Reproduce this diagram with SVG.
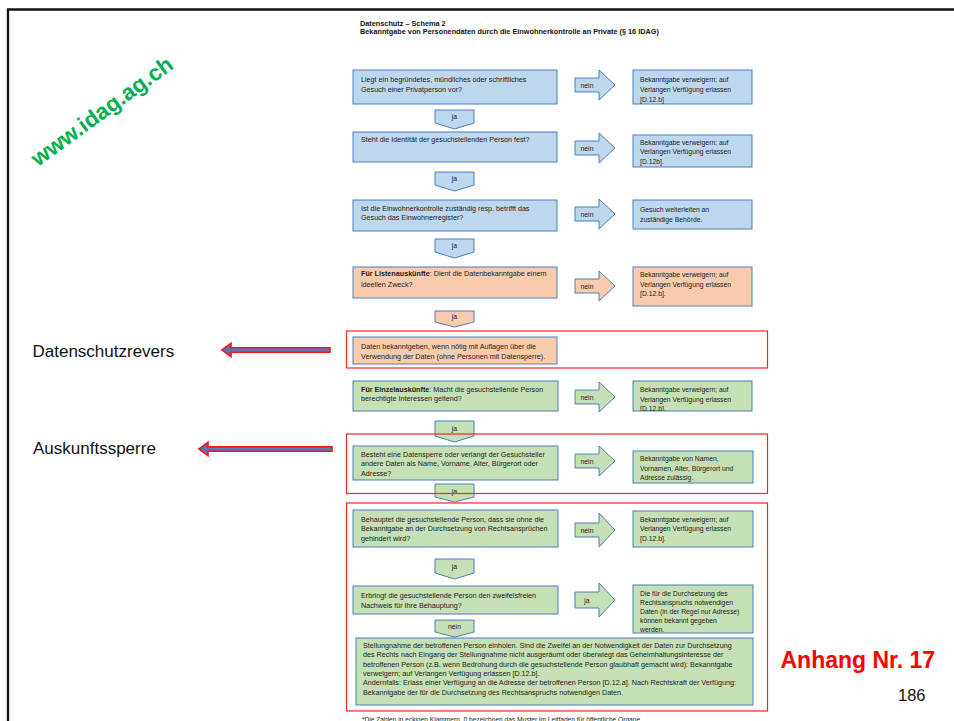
<svg xmlns="http://www.w3.org/2000/svg" width="954" height="721" viewBox="0 0 954 721">
<style>
text{font-family:"Liberation Sans",Arial,sans-serif;fill:#222}
.t{font-size:7.2px}
.r{font-size:6.8px}
.ttl{font-size:7.3px;font-weight:bold;fill:#111}
.b{font-weight:bold}
.blue{fill:#BDD7EE;stroke:#4A7EBB;stroke-width:1}
.org{fill:#F8CBAD;stroke:#4A7EBB;stroke-width:1}
.grn{fill:#C5E0B4;stroke:#4A7EBB;stroke-width:1}
.lbl{font-size:6.8px;text-anchor:middle}
.red{fill:none;stroke:#F02828;stroke-width:1.2}
.rarr{fill:#5577BB;stroke:#FF1010;stroke-width:1.6;stroke-linejoin:miter}
.side{font-size:17px;fill:#111}
</style>
<defs>
<clipPath id="c5"><rect x="633" y="381" width="120" height="30"/></clipPath>
<clipPath id="c8"><rect x="633" y="585" width="120" height="48"/></clipPath>
</defs>
<rect width="954" height="721" fill="#fff"/>
<path d="M8,721V9.5H954" fill="none" stroke="#111" stroke-width="2.3"/>

<g id="title">
<text class="ttl" x="360" y="25.5">Datenschutz – Schema 2</text>
<text class="ttl" x="360" y="34">Bekanntgabe von Personendaten durch die Einwohnerkontrolle an Private (§ 16 IDAG)</text>
</g>

<g id="watermark"><text x="38" y="167" transform="rotate(-36 38 167)" style="font-size:22.5px;font-weight:bold;fill:#00B050">www.idag.ag.ch</text></g>

<g id="q1"><rect class="blue" x="353" y="70" width="204" height="34"/>
<text class="t" x="361" y="81.5">Liegt ein begründetes, mündliches oder schriftliches</text>
<text class="t" x="361" y="91.5">Gesuch einer Privatperson vor?</text></g>
<g id="a1"><rect class="blue" x="633" y="70" width="119" height="34"/>
<text class="r" x="640" y="81.5">Bekanntgabe verweigern; auf</text>
<text class="r" x="640" y="91.5">Verlangen Verfügung erlassen</text>
<text class="r" x="640" y="101.5">[D.12.b]</text></g>

<g id="q2"><rect class="blue" x="353" y="132" width="204" height="30"/>
<text class="t" x="361" y="142">Steht die Identität der gesuchstellenden Person fest?</text></g>
<g id="a2"><rect class="blue" x="633" y="135" width="119" height="32"/>
<text class="r" x="640" y="144.5">Bekanntgabe verweigern; auf</text>
<text class="r" x="640" y="154">Verlangen Verfügung erlassen</text>
<text class="r" x="640" y="163.5">[D.12b].</text></g>

<g id="q3"><rect class="blue" x="353" y="200" width="204" height="31"/>
<text class="t" x="361" y="210.5">Ist die Einwohnerkontrolle zuständig resp. betrifft das</text>
<text class="t" x="361" y="219.5">Gesuch das Einwohnerregister?</text></g>
<g id="a3"><rect class="blue" x="633" y="200" width="119" height="29"/>
<text class="r" x="640" y="212">Gesuch weiterleiten an</text>
<text class="r" x="640" y="221.5">zuständige Behörde.</text></g>

<g id="q4"><rect class="org" x="353" y="267" width="204" height="31"/>
<text class="t" x="361" y="276"><tspan class="b">Für Listenauskünfte</tspan>: Dient die Datenbekanntgabe einem</text>
<text class="t" x="361" y="286.5">ideellen Zweck?</text></g>
<g id="a4"><rect class="org" x="633" y="267" width="119" height="39"/>
<text class="r" x="640" y="277">Bekanntgabe verweigern; auf</text>
<text class="r" x="640" y="286.5">Verlangen Verfügung erlassen</text>
<text class="r" x="640" y="296">[D.12.b].</text></g>

<g id="d4"><rect class="org" x="353" y="337" width="204" height="27"/>
<text class="t" x="361" y="348.5">Daten bekanntgeben, wenn nötig mit Auflagen über die</text>
<text class="t" x="361" y="358.5">Verwendung der Daten (ohne Personen mit Datensperre).</text></g>

<g id="q5"><rect class="grn" x="353" y="381" width="205" height="30"/>
<text class="t" x="361" y="391.5"><tspan class="b">Für Einzelauskünfte</tspan>: Macht die gesuchstellende Person</text>
<text class="t" x="361" y="401">berechtigte Interessen geltend?</text></g>
<g id="a5"><rect class="grn" x="633" y="381" width="119" height="30"/>
<g clip-path="url(#c5)">
<text class="r" x="640" y="392">Bekanntgabe verweigern; auf</text>
<text class="r" x="640" y="401.5">Verlangen Verfügung erlassen</text>
<text class="r" x="640" y="411">[D.12.b].</text></g></g>

<g id="q6"><rect class="grn" x="353" y="446" width="205" height="34"/>
<text class="t" x="361" y="456.5">Besteht eine Datensperre oder verlangt der Gesuchsteller</text>
<text class="t" x="361" y="466">andere Daten als Name, Vorname, Alter, Bürgerort oder</text>
<text class="t" x="361" y="475.5">Adresse?</text></g>
<g id="a6"><rect class="grn" x="633" y="451" width="120" height="32"/>
<text class="r" x="640" y="461">Bekanntgabe von Namen,</text>
<text class="r" x="640" y="470.5">Vornamen, Alter, Bürgerort und</text>
<text class="r" x="640" y="480">Adresse zulässig.</text></g>

<g id="q7"><rect class="grn" x="353" y="510" width="205" height="37"/>
<text class="t" x="361" y="521.5">Behauptet die gesuchstellende Person, dass sie ohne die</text>
<text class="t" x="361" y="531">Bekanntgabe an der Durchsetzung von Rechtsansprüchen</text>
<text class="t" x="361" y="540.5">gehindert wird?</text></g>
<g id="a7"><rect class="grn" x="633" y="511" width="120" height="36"/>
<text class="r" x="640" y="521.5">Bekanntgabe verweigern; auf</text>
<text class="r" x="640" y="531">Verlangen Verfügung erlassen</text>
<text class="r" x="640" y="540.5">[D.12.b].</text></g>

<g id="q8"><rect class="grn" x="353" y="586" width="205" height="28"/>
<text class="t" x="361" y="598">Erbringt die gesuchstellende Person den zweifelsfreien</text>
<text class="t" x="361" y="607.5">Nachweis für Ihre Behauptung?</text></g>
<g id="a8"><rect class="grn" x="633" y="585" width="120" height="48"/>
<g clip-path="url(#c8)">
<text class="r" x="640" y="595.5">Die für die Durchsetzung des</text>
<text class="r" x="640" y="604.5">Rechtsanspruchs notwendigen</text>
<text class="r" x="640" y="613.5">Daten (in der Regel nur Adresse)</text>
<text class="r" x="640" y="622.5">können bekannt gegeben</text>
<text class="r" x="640" y="632">werden.</text></g></g>

<g id="final"><rect class="grn" x="356" y="638" width="397" height="67"/>
<text class="t" x="363" y="648">Stellungnahme der betroffenen Person einholen. Sind die Zweifel an der Notwendigkeit der Daten zur Durchsetzung</text>
<text class="t" x="363" y="657.3">des Rechts nach Eingang der Stellungnahme nicht ausgeräumt oder überwiegt das Geheimhaltungsinteresse der</text>
<text class="t" x="363" y="666.6">betroffenen Person (z.B. wenn Bedrohung durch die gesuchstellende Person glaubhaft gemacht wird): Bekanntgabe</text>
<text class="t" x="363" y="675.9">verweigern; auf Verlangen Verfügung erlassen  [D.12.b].</text>
<text class="t" x="363" y="685.2">Andernfalls: Erlass einer Verfügung an die Adresse der betroffenen Person [D.12.a]. Nach Rechtskraft der Verfügung:</text>
<text class="t" x="363" y="694.5">Bekanntgabe der für die Durchsetzung des Rechtsanspruchs notwendigen Daten.</text></g>

<g id="connectors">
<polygon class="blue" points="575,78 599,78 599,70 615,85 599,100 599,92 575,92"/><text class="lbl" x="587" y="87.5">nein</text>
<polygon class="blue" points="575,141 599,141 599,133 615,148 599,163 599,155 575,155"/><text class="lbl" x="587" y="150.5">nein</text>
<polygon class="blue" points="575,207 599,207 599,199 615,214 599,229 599,221 575,221"/><text class="lbl" x="587" y="216.5">nein</text>
<polygon class="org" points="575,279 599,279 599,271 615,286 599,301 599,293 575,293"/><text class="lbl" x="587" y="288.5">nein</text>
<polygon class="grn" points="575,390 599,390 599,382 615,397 599,412 599,404 575,404"/><text class="lbl" x="587" y="399.5">nein</text>
<polygon class="grn" points="575,454 599,454 599,446 615,461 599,476 599,468 575,468"/><text class="lbl" x="587" y="463.5">nein</text>
<polygon class="grn" points="575,523 599,523 599,513 615,530 599,547 599,537 575,537"/><text class="lbl" x="587" y="532.5">nein</text>
<polygon class="grn" points="575,592 599,592 599,583 615,600 599,617 599,608 575,608"/><text class="lbl" x="587" y="602.5">ja</text>
<polygon class="blue" points="435,110 474,110 474,123 454.5,129 435,123"/><text class="lbl" x="454.5" y="119">ja</text>
<polygon class="blue" points="435,172 474,172 474,185 454.5,191 435,185"/><text class="lbl" x="454.5" y="181">ja</text>
<polygon class="blue" points="435,239 474,239 474,252 454.5,258 435,252"/><text class="lbl" x="454.5" y="248">ja</text>
<polygon class="org" points="435,311 474,311 474,322 454.5,327 435,322"/><text class="lbl" x="454.5" y="318.5">ja</text>
<polygon class="grn" points="435,421 474,421 474,436 454.5,442 435,436"/><text class="lbl" x="454.5" y="430.5">ja</text>
<polygon class="grn" points="435,484 474,484 474,497 454.5,502 435,497"/><text class="lbl" x="454.5" y="494">ja</text>
<polygon class="grn" points="435,559 474,559 474,573 454.5,579 435,573"/><text class="lbl" x="454.5" y="568.5">ja</text>
<polygon class="grn" points="435,620 474,620 474,632 454.5,637 435,632"/><text class="lbl" x="454.5" y="628.5">nein</text>
<polygon class="rarr" points="222,350 231,343.3 231,347.8 330,347.8 330,352.2 231,352.2 231,356.7"/>
<polygon class="rarr" points="199,449 208,442.3 208,446.8 332,446.8 332,451.2 208,451.2 208,455.7"/>
</g>

<g id="groups">
<rect class="red" x="346.5" y="331" width="421" height="37"/>
<rect class="red" x="346.5" y="434" width="421" height="59.5"/>
<rect class="red" x="346.5" y="503" width="421" height="208"/>
</g>

<g id="labels">
<text class="side" x="32.5" y="357">Datenschutzrevers</text>
<text class="side" x="33" y="453.5">Auskunftssperre</text>
<text x="780.5" y="667.5" style="font-size:23px;font-weight:bold;fill:#FF0000">Anhang Nr. 17</text>
<text x="898" y="701" style="font-size:16.5px;fill:#111">186</text>
<text x="362" y="721.5" style="font-size:6.6px;fill:#222">*Die Zahlen in eckigen Klammern, [] bezeichnen das Muster im Leitfaden für öffentliche Organe</text>
</g>
</svg>
